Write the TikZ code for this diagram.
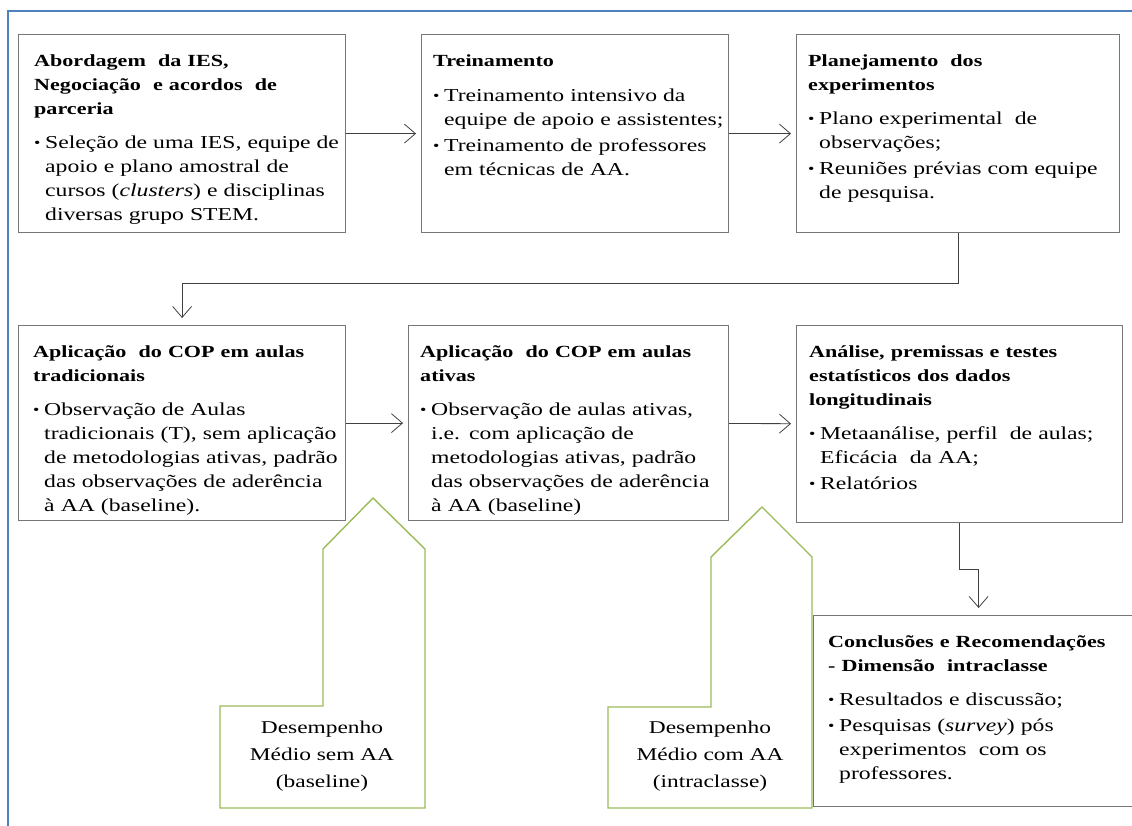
\documentclass[tikz,border=0pt]{standalone}
\usepackage{fontspec}
\setmainfont[FakeStretch=1.30]{Liberation Serif}
\usetikzlibrary{arrows.meta}

\definecolor{cinzaborda}{RGB}{118,118,118}
\definecolor{cinzaseta}{RGB}{64,64,64}
\definecolor{verdebalao}{RGB}{155,187,89}
\definecolor{azulmoldura}{RGB}{79,129,189}

\newcommand{\cab}[1]{{\fontsize{17}{24}\selectfont\bfseries #1}}
\newcommand{\itm}{\makebox[11pt][l]{\raisebox{0.5pt}{\fontsize{14}{14}\selectfont\textbullet}}}
\newcommand{\rec}{\hspace*{11pt}}

\tikzset{
  etapa/.style={draw=cinzaborda, line width=1.2pt, anchor=north west, inner sep=0pt},
  texto/.style={anchor=base west, text width=330pt, align=left, inner sep=0pt,
    font=\fontsize{18.2}{24}\selectfont},
  seta/.style={draw=cinzaseta, line width=0.8pt,
    -{Straight Barb[length=11pt,width=19pt]}, shorten >=5pt},
  balao/.style={draw=verdebalao, line width=1.4pt, line join=miter},
  moldura/.style={draw=azulmoldura, line width=2pt}
}

\begin{document}
\begin{tikzpicture}[x=1pt,y=-1pt]
\useasboundingbox (0,0) rectangle (1132,825);
\clip (0,0) rectangle (1132,825);

% Moldura
\draw[moldura] (8,830) -- (8,11) -- (1140,11);

% Primeira linha
\node[etapa, minimum width=327pt, minimum height=198pt] (abord) at (18,34) {};
\node[texto, xshift=16pt, yshift=-32pt] (abord-t) at (abord.north west)
  {\cab{Abordagem \ da IES,}\\\cab{Negociação \ e acordos \ de}\\\cab{parceria}\\[10pt]
   \itm Seleção de uma IES, equipe de\\\rec apoio e plano amostral de\\
   \rec cursos (\textit{clusters}) e disciplinas\\\rec diversas grupo STEM.};

\node[etapa, minimum width=307pt, minimum height=198pt] (trein) at (421,34) {};
\node[texto, xshift=12pt, yshift=-32pt] (trein-t) at (trein.north west)
  {\cab{Treinamento}\\[11pt]
   \itm Treinamento intensivo da\\\rec equipe de apoio e assistentes;\\[2pt]
   \itm Treinamento de professores\\\rec em técnicas de AA.};

\node[etapa, minimum width=323pt, minimum height=198pt] (plan) at (796,34) {};
\node[texto, xshift=12pt, yshift=-32pt] (plan-t) at (plan.north west)
  {\cab{Planejamento \ dos}\\\cab{experimentos}\\[10pt]
   \itm Plano experimental \ de\\\rec observações;\\[2pt]
   \itm Reuniões prévias com equipe\\\rec de pesquisa.};

% Segunda linha
\node[etapa, minimum width=327pt, minimum height=195pt] (coptrad) at (18,325) {};
\node[texto, xshift=15pt, yshift=-32pt] (coptrad-t) at (coptrad.north west)
  {\cab{Aplicação \ do COP em aulas}\\\cab{tradicionais}\\[10pt]
   \itm Observação de Aulas\\\rec tradicionais (T), sem aplicação\\
   \rec de metodologias ativas, padrão\\\rec das observações de aderência\\
   \rec à AA (baseline).};

\node[etapa, minimum width=320pt, minimum height=195pt] (copativ) at (408,325) {};
\node[texto, xshift=12pt, yshift=-32pt] (copativ-t) at (copativ.north west)
  {\cab{Aplicação \ do COP em aulas}\\\cab{ativas}\\[10pt]
   \itm Observação de aulas ativas,\\\rec i.e. com aplicação de\\
   \rec metodologias ativas, padrão\\\rec das observações de aderência\\
   \rec à AA (baseline)};

\node[etapa, minimum width=326pt, minimum height=197pt] (analise) at (796,325) {};
\node[texto, xshift=13pt, yshift=-32pt] (analise-t) at (analise.north west)
  {\cab{Análise, premissas e testes}\\\cab{estatísticos dos dados}\\\cab{longitudinais}\\[10pt]
   \itm Metaanálise, perfil \ de aulas;\\\rec Eficácia \ da AA;\\[2pt]
   \itm Relatórios};

% Conclusoes
\node[etapa, minimum width=330pt, minimum height=191pt] (concl) at (813,615) {};
\node[texto, xshift=15pt, yshift=-32pt] (concl-t) at (concl.north west)
  {\cab{Conclusões e Recomendações}\\\cab{- Dimensão \ intraclasse}\\[10pt]
   \itm Resultados e discussão;\\[2pt]
   \itm Pesquisas (\textit{survey}) pós\\\rec experimentos \ com os\\\rec professores.};

% Setas
\draw[seta] (abord) -- (trein);
\draw[seta] (trein) -- (plan);
\draw[seta, shorten >=7pt] (plan.south) -- ++(0,50) -| (coptrad.north);
\draw[seta] (coptrad) -- (copativ);
\draw[seta] (copativ) -- (analise);
\draw[seta, shorten >=7pt] (analise.south) -- ++(0,46) -| (concl.north);

% Desempenho (baloes)
\draw[balao] (373,498) -- (425,549) -- (425,808) -- (220,808) -- (220,706)
  -- (323,706) -- (323,549) -- cycle;
\node[align=center, font=\fontsize{18}{27}\selectfont] (desemp-sem) at (322,756)
  {Desempenho\\Médio sem AA\\(baseline)};

\draw[balao] (762,507) -- (812,557) -- (812,808) -- (608,808) -- (608,707)
  -- (711,707) -- (711,557) -- cycle;
\node[align=center, font=\fontsize{18}{27}\selectfont] (desemp-com) at (710,756)
  {Desempenho\\Médio com AA\\(intraclasse)};

\end{tikzpicture}
\end{document}
